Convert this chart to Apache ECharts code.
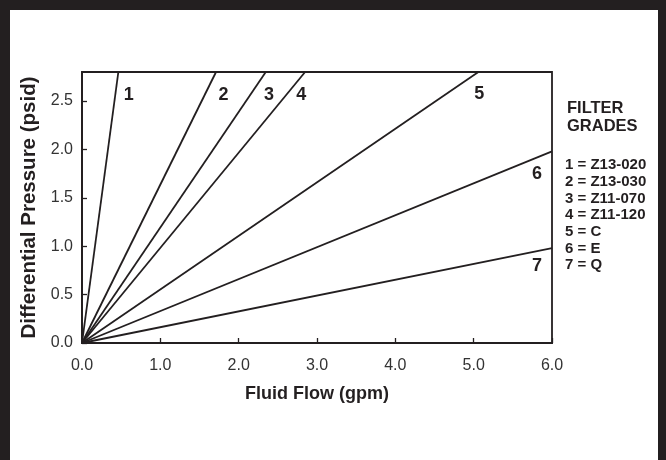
<!DOCTYPE html>
<html>
<head>
<meta charset="utf-8">
<script src="https://cdn.jsdelivr.net/npm/echarts@6/dist/echarts.min.js"></script>
<style>
  html, body { margin: 0; padding: 0; background: #fff; }
  #frame { position: absolute; left: 0; top: 0; width: 666px; height: 460px; box-sizing: border-box;
           border-top: 10px solid #231f20; border-left: 10px solid #231f20; border-right: 8px solid #231f20; }
  #chart { position: absolute; left: 0; top: 0; width: 666px; height: 460px; }
</style>
</head>
<body>
<div id="frame"></div>
<div id="chart"></div>
<script>
// Grade curves: each runs from origin to its end point (flow gpm, pressure psid)
const gradeNames = ['1', '2', '3', '4', '5', '6', '7'];
const endFlow = [0.464, 1.711, 2.346, 2.848, 5.06, 6.0, 6.0];
const endPressure = [2.8, 2.8, 2.8, 2.8, 2.8, 1.98, 0.98];

// Curve number labels (data coordinates)
const labelFlow = [0.596, 1.805, 2.386, 2.80, 5.07, 5.807, 5.807];
const labelPressure = [2.557, 2.557, 2.557, 2.557, 2.57, 1.741, 0.797];

// Legend text
const legendTitle = ['FILTER', 'GRADES'];
const legendLines = ['1 = Z13-020', '2 = Z13-030', '3 = Z11-070', '4 = Z11-120', '5 = C', '6 = E', '7 = Q'];

// Axes
const xMin = 0, xMax = 6, xStep = 1;
const yMin = 0, yMax = 2.8, yStep = 0.5;

const FONT = "'Liberation Sans', Arial, Helvetica, sans-serif";
const INK = '#231f20';

const chart = echarts.init(document.getElementById('chart'), null, { renderer: 'canvas' });

const lineSeries = gradeNames.map((n, i) => ({
  name: 'Grade ' + n,
  type: 'line',
  data: [[0, 0], [endFlow[i], endPressure[i]]],
  symbol: 'none',
  silent: true,
  animation: false,
  lineStyle: { color: INK, width: 1.8 },
  z: 3
}));

const labelSeries = {
  type: 'scatter',
  data: gradeNames.map((n, i) => ({ value: [labelFlow[i], labelPressure[i]], name: n })),
  symbolSize: 0,
  itemStyle: { color: INK, opacity: 1 },
  silent: true,
  animation: false,
  label: {
    show: true,
    position: 'inside',
    formatter: p => p.name,
    fontFamily: FONT,
    fontWeight: 'bold',
    fontSize: 18,
    color: INK,
    textBorderWidth: 0
  },
  z: 4
};

const graphics = [];
legendTitle.forEach((t, i) => {
  graphics.push({
    type: 'text', left: 567, top: 100 + i * 18, silent: true,
    style: { text: t, fontFamily: FONT, fontWeight: 'bold', fontSize: 16.5, fill: INK }
  });
});
legendLines.forEach((t, i) => {
  graphics.push({
    type: 'text', left: 565, top: 157.5 + i * 16.7, silent: true,
    style: { text: t, fontFamily: FONT, fontWeight: 'bold', fontSize: 15, fill: INK }
  });
});

chart.setOption({
  backgroundColor: 'transparent',
  animation: false,
  grid: {
    left: 82, top: 72, right: 114, bottom: 117,
    show: true, borderColor: INK, borderWidth: 1.8, backgroundColor: 'transparent'
  },
  xAxis: {
    type: 'value', min: xMin, max: xMax, interval: xStep,
    name: 'Fluid Flow (gpm)', nameLocation: 'middle', nameGap: 42,
    nameTextStyle: { fontFamily: FONT, fontWeight: 'bold', fontSize: 18, color: INK },
    axisLine: { show: true, lineStyle: { color: INK, width: 1.8 } },
    axisTick: { show: true, inside: true, length: 5, lineStyle: { color: INK, width: 1.3 } },
    axisLabel: { margin: 15, fontFamily: FONT, fontSize: 16, color: '#333', formatter: v => v.toFixed(1) },
    splitLine: { show: false }
  },
  yAxis: {
    type: 'value', min: yMin, max: yMax, interval: yStep,
    name: 'Differential Pressure (psid)', nameLocation: 'middle', nameGap: 36, nameRotate: 90,
    nameTextStyle: { fontFamily: FONT, fontWeight: 'bold', fontSize: 20.5, color: INK },
    axisLine: { show: true, lineStyle: { color: INK, width: 1.8 } },
    axisTick: { show: true, inside: true, length: 5, lineStyle: { color: INK, width: 1.3 } },
    axisLabel: { margin: 9, fontFamily: FONT, fontSize: 16, color: '#333', showMaxLabel: false,
                 formatter: v => v.toFixed(1) },
    splitLine: { show: false }
  },
  series: [...lineSeries, labelSeries],
  graphic: graphics
});
</script>
</body>
</html>
